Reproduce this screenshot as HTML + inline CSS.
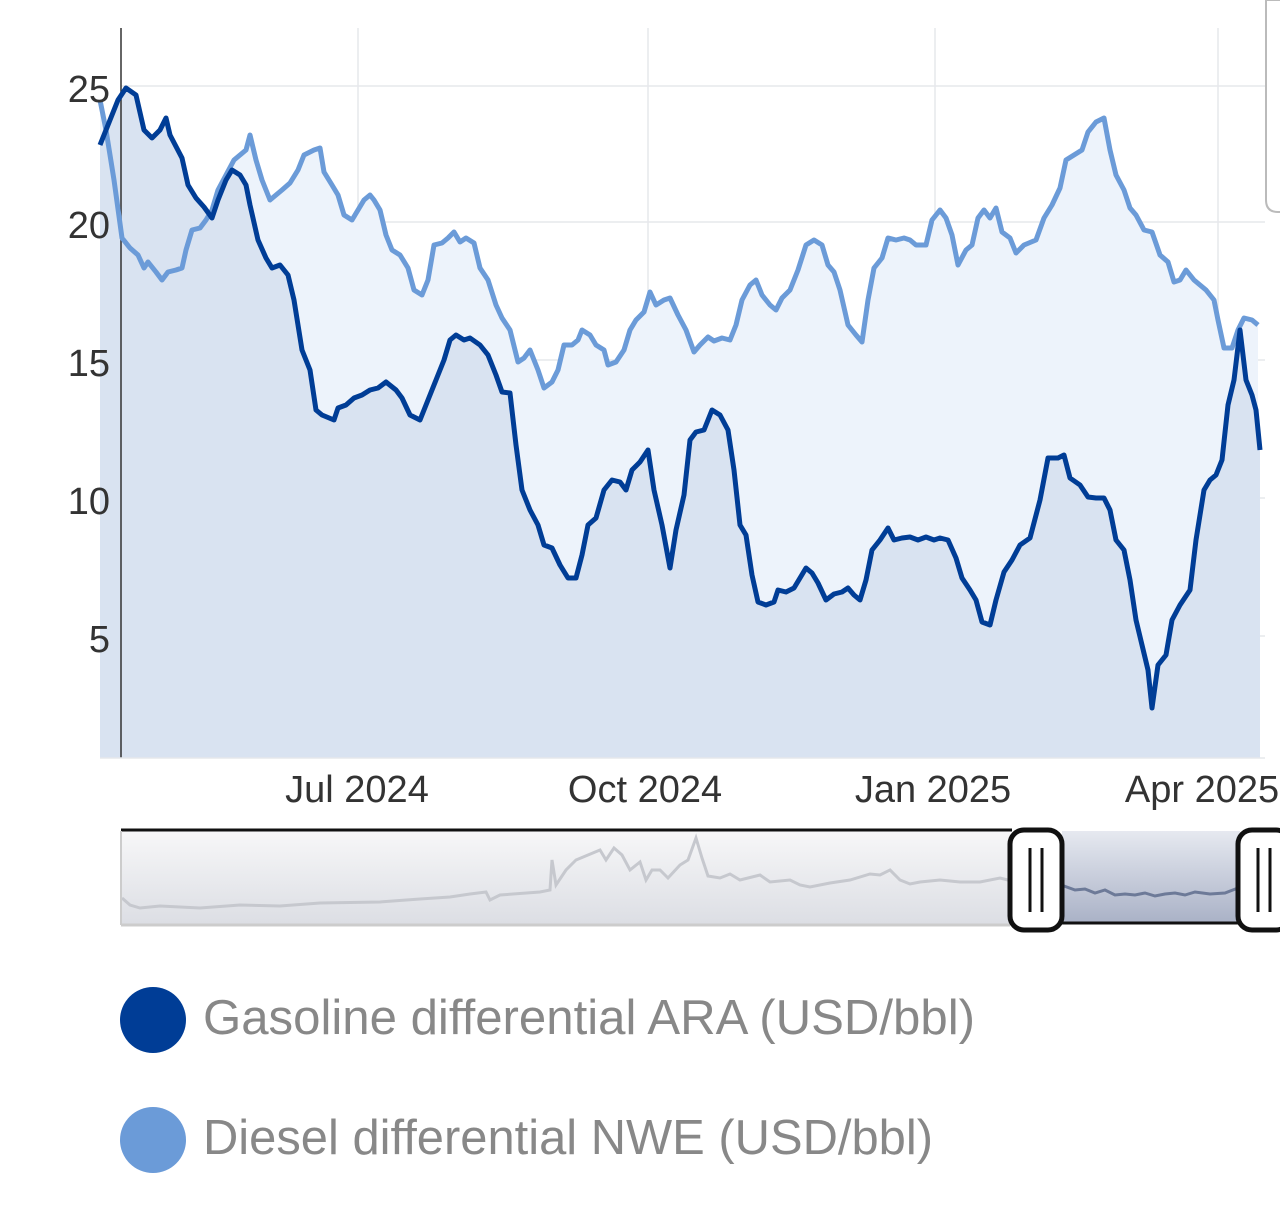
<!DOCTYPE html>
<html><head><meta charset="utf-8"><style>
html,body{margin:0;padding:0;background:#fff;width:1280px;height:1218px;overflow:hidden}
svg{display:block}
text{font-family:"Liberation Sans",sans-serif}
</style></head><body>
<svg width="1280" height="1218" viewBox="0 0 1280 1218" xmlns="http://www.w3.org/2000/svg">
<defs>
<linearGradient id="navg" x1="0" y1="0" x2="0" y2="1"><stop offset="0" stop-color="#f7f7f8"/><stop offset="1" stop-color="#dcdee4"/></linearGradient>
<linearGradient id="navs" x1="0" y1="0" x2="0" y2="1"><stop offset="0" stop-color="#e6e9f0"/><stop offset="1" stop-color="#a9b1c6"/></linearGradient>
</defs>
<g stroke="#e6e8ec" stroke-width="1.5">
<line x1="121" y1="86" x2="1265" y2="86"/><line x1="121" y1="222" x2="1265" y2="222"/><line x1="121" y1="360" x2="1265" y2="360"/><line x1="121" y1="498" x2="1265" y2="498"/><line x1="121" y1="636" x2="1265" y2="636"/>
<line x1="358" y1="28" x2="358" y2="758"/><line x1="648" y1="28" x2="648" y2="758"/><line x1="935" y1="28" x2="935" y2="758"/><line x1="1218" y1="28" x2="1218" y2="758"/>
</g>
<path d="M1280 0 L1266 0 L1266 200 Q1266 212 1278 212 L1280 212" fill="none" stroke="#bbb" stroke-width="2"/>
<polygon fill="#edf3fb" points="100,100 106,130 114,180 122,238 130,248 138,255 144,268 148,262 156,272 162,280 168,272 176,270 182,268 186,250 192,230 200,228 206,220 212,210 218,190 226,175 234,160 240,155 246,150 250,135 256,160 262,180 270,200 276,195 282,190 290,183 298,170 304,155 314,150 320,148 324,172 332,185 338,195 344,215 352,220 358,210 364,200 370,195 374,200 380,210 386,235 392,250 400,255 408,268 414,290 422,295 428,280 434,245 442,243 448,238 454,232 460,242 466,238 474,243 480,268 488,280 496,305 502,318 510,330 518,362 524,358 530,350 538,370 544,388 552,382 558,370 564,345 572,345 578,340 582,330 590,335 596,345 604,350 608,365 616,362 624,350 630,330 636,320 644,312 650,292 656,305 664,300 670,298 678,315 686,330 694,352 700,345 708,337 714,341 722,338 730,340 736,325 742,300 750,285 756,280 762,295 770,305 776,310 782,298 790,290 798,270 806,245 814,240 822,245 828,265 834,272 840,290 848,325 856,335 862,342 868,300 874,268 882,258 888,238 896,240 904,238 910,240 916,245 926,245 932,220 940,210 946,218 952,235 958,265 966,250 972,245 978,218 984,210 990,218 996,208 1002,232 1010,238 1016,253 1024,245 1036,240 1044,218 1052,205 1060,188 1066,160 1074,155 1082,150 1088,132 1096,122 1104,118 1110,150 1116,175 1124,190 1130,208 1136,215 1144,230 1152,232 1160,255 1168,262 1174,282 1180,280 1186,270 1194,280 1200,285 1206,290 1214,300 1218,320 1224,348 1232,348 1238,330 1244,318 1252,320 1258,325 1258,758 100,758"/>
<polygon fill="#d9e3f1" points="100,145 110,120 118,100 126,88 136,95 144,130 152,138 160,130 166,118 170,135 182,158 188,185 196,198 204,207 212,218 218,200 226,180 232,170 240,175 246,185 250,205 258,240 266,258 272,268 280,265 288,275 294,300 302,350 310,370 316,410 322,415 334,420 338,408 346,405 354,398 362,395 370,390 378,388 386,382 396,390 402,398 410,415 420,420 428,400 436,380 444,360 450,340 456,335 464,340 470,338 480,345 488,355 496,375 502,392 510,393 516,445 522,490 530,510 538,525 544,545 552,548 560,565 568,578 576,578 582,555 588,525 596,518 604,490 612,480 620,482 626,490 632,470 640,462 648,450 654,490 662,525 670,568 676,530 684,495 690,440 696,432 704,430 712,410 720,415 728,430 734,470 740,525 746,535 752,575 758,602 766,605 774,602 778,590 786,592 794,588 800,578 806,568 812,573 818,583 826,600 834,594 842,592 848,588 854,595 860,600 866,580 872,550 880,540 888,528 894,540 902,538 910,537 918,540 926,537 934,540 940,538 948,540 956,558 962,578 970,590 976,600 982,622 990,625 996,600 1004,572 1012,560 1020,545 1030,538 1040,500 1048,458 1058,458 1064,455 1070,478 1080,485 1088,497 1096,498 1104,498 1110,510 1116,540 1124,550 1130,580 1136,620 1142,645 1148,670 1152,708 1158,665 1166,655 1172,620 1180,605 1190,590 1196,540 1204,490 1210,480 1216,475 1222,460 1228,405 1234,380 1240,330 1246,380 1252,395 1256,410 1260,450 1260,758 100,758"/>
<line x1="121" y1="28" x2="121" y2="758" stroke="#333" stroke-width="1.5"/>
<line x1="100" y1="758" x2="1265" y2="758" stroke="#e6e8ec" stroke-width="1.5"/>
<polyline fill="none" stroke="#6b9bd8" stroke-width="5" stroke-linejoin="round" points="100,100 106,130 114,180 122,238 130,248 138,255 144,268 148,262 156,272 162,280 168,272 176,270 182,268 186,250 192,230 200,228 206,220 212,210 218,190 226,175 234,160 240,155 246,150 250,135 256,160 262,180 270,200 276,195 282,190 290,183 298,170 304,155 314,150 320,148 324,172 332,185 338,195 344,215 352,220 358,210 364,200 370,195 374,200 380,210 386,235 392,250 400,255 408,268 414,290 422,295 428,280 434,245 442,243 448,238 454,232 460,242 466,238 474,243 480,268 488,280 496,305 502,318 510,330 518,362 524,358 530,350 538,370 544,388 552,382 558,370 564,345 572,345 578,340 582,330 590,335 596,345 604,350 608,365 616,362 624,350 630,330 636,320 644,312 650,292 656,305 664,300 670,298 678,315 686,330 694,352 700,345 708,337 714,341 722,338 730,340 736,325 742,300 750,285 756,280 762,295 770,305 776,310 782,298 790,290 798,270 806,245 814,240 822,245 828,265 834,272 840,290 848,325 856,335 862,342 868,300 874,268 882,258 888,238 896,240 904,238 910,240 916,245 926,245 932,220 940,210 946,218 952,235 958,265 966,250 972,245 978,218 984,210 990,218 996,208 1002,232 1010,238 1016,253 1024,245 1036,240 1044,218 1052,205 1060,188 1066,160 1074,155 1082,150 1088,132 1096,122 1104,118 1110,150 1116,175 1124,190 1130,208 1136,215 1144,230 1152,232 1160,255 1168,262 1174,282 1180,280 1186,270 1194,280 1200,285 1206,290 1214,300 1218,320 1224,348 1232,348 1238,330 1244,318 1252,320 1258,325"/>
<polyline fill="none" stroke="#003d96" stroke-width="5" stroke-linejoin="round" points="100,145 110,120 118,100 126,88 136,95 144,130 152,138 160,130 166,118 170,135 182,158 188,185 196,198 204,207 212,218 218,200 226,180 232,170 240,175 246,185 250,205 258,240 266,258 272,268 280,265 288,275 294,300 302,350 310,370 316,410 322,415 334,420 338,408 346,405 354,398 362,395 370,390 378,388 386,382 396,390 402,398 410,415 420,420 428,400 436,380 444,360 450,340 456,335 464,340 470,338 480,345 488,355 496,375 502,392 510,393 516,445 522,490 530,510 538,525 544,545 552,548 560,565 568,578 576,578 582,555 588,525 596,518 604,490 612,480 620,482 626,490 632,470 640,462 648,450 654,490 662,525 670,568 676,530 684,495 690,440 696,432 704,430 712,410 720,415 728,430 734,470 740,525 746,535 752,575 758,602 766,605 774,602 778,590 786,592 794,588 800,578 806,568 812,573 818,583 826,600 834,594 842,592 848,588 854,595 860,600 866,580 872,550 880,540 888,528 894,540 902,538 910,537 918,540 926,537 934,540 940,538 948,540 956,558 962,578 970,590 976,600 982,622 990,625 996,600 1004,572 1012,560 1020,545 1030,538 1040,500 1048,458 1058,458 1064,455 1070,478 1080,485 1088,497 1096,498 1104,498 1110,510 1116,540 1124,550 1130,580 1136,620 1142,645 1148,670 1152,708 1158,665 1166,655 1172,620 1180,605 1190,590 1196,540 1204,490 1210,480 1216,475 1222,460 1228,405 1234,380 1240,330 1246,380 1252,395 1256,410 1260,450"/>
<g font-size="38" fill="#333" text-anchor="end">
<text x="110" y="102">25</text><text x="110" y="238">20</text><text x="110" y="376">15</text><text x="110" y="514">10</text><text x="110" y="652">5</text>
</g>
<g font-size="38" fill="#333" text-anchor="middle">
<text x="357" y="802">Jul 2024</text><text x="645" y="802">Oct 2024</text><text x="933" y="802">Jan 2025</text><text x="1202" y="802">Apr 2025</text>
</g>
<rect x="121" y="831" width="889" height="93" fill="url(#navg)"/>
<rect x="1062" y="831" width="178" height="93" fill="url(#navs)"/>
<polyline fill="none" stroke="#c6c8ce" stroke-width="3" points="122,898 130,905 140,908 160,906 200,908 240,905 280,906 320,903 380,902 420,899 450,897 470,894 486,892 490,900 500,895 540,892 550,890 552,860 556,885 566,870 576,860 588,855 600,850 606,860 614,848 622,855 630,870 640,862 646,880 652,870 660,870 668,878 680,865 688,860 696,838 702,858 708,876 720,878 730,874 740,880 760,875 770,882 790,880 800,885 810,887 830,883 850,880 870,874 880,875 890,870 900,880 910,884 920,882 940,880 960,882 980,882 1000,878 1008,880"/>
<polyline fill="none" stroke="#6d7a98" stroke-width="3" points="1064,886 1075,890 1085,889 1095,893 1105,890 1115,895 1125,894 1135,895 1145,893 1155,896 1165,894 1175,893 1185,895 1195,892 1210,894 1225,893 1238,888"/>
<line x1="121" y1="830" x2="1012" y2="830" stroke="#111" stroke-width="3"/>
<line x1="1060" y1="923" x2="1240" y2="923" stroke="#111" stroke-width="3"/>
<line x1="121" y1="925" x2="1010" y2="925" stroke="#ccc" stroke-width="3"/>
<line x1="121" y1="831" x2="121" y2="925" stroke="#ccc" stroke-width="2"/>
<g>
<rect x="1010" y="830" width="52" height="100" rx="14" fill="#fff" stroke="#111" stroke-width="5"/>
<line x1="1030" y1="848" x2="1030" y2="912" stroke="#111" stroke-width="3"/>
<line x1="1042" y1="848" x2="1042" y2="912" stroke="#111" stroke-width="3"/>
<rect x="1238" y="830" width="52" height="100" rx="14" fill="#fff" stroke="#111" stroke-width="5"/>
<line x1="1258" y1="848" x2="1258" y2="912" stroke="#111" stroke-width="3"/>
<line x1="1270" y1="848" x2="1270" y2="912" stroke="#111" stroke-width="3"/>
</g>
<circle cx="153" cy="1020" r="33" fill="#003d96"/>
<circle cx="153" cy="1140" r="33" fill="#6b9bd8"/>
<g font-size="49" fill="#888">
<text x="203" y="1034" textLength="772" lengthAdjust="spacingAndGlyphs">Gasoline differential ARA (USD/bbl)</text>
<text x="203" y="1154" textLength="730" lengthAdjust="spacingAndGlyphs">Diesel differential NWE (USD/bbl)</text>
</g>
</svg>
</body></html>
